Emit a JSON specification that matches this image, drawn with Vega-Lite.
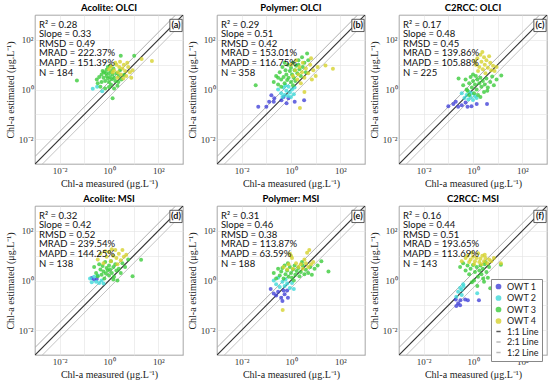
{
  "$schema": "https://vega.github.io/schema/vega-lite/v6.json",
  "padding": {"top": 2, "left": 4, "right": 5, "bottom": 2},
  "datasets": {
    "panels": [
      {"p": "a", "title": "Acolite: OLCI", "lbl": "(a)", "stats": ["R² = 0.28", "Slope = 0.33", "RMSD = 0.49", "MRAD = 222.37%", "MAPD = 151.39%", "N = 184"]},
      {"p": "b", "title": "Polymer: OLCI", "lbl": "(b)", "stats": ["R² = 0.29", "Slope = 0.51", "RMSD = 0.42", "MRAD = 153.01%", "MAPD = 116.75%", "N = 358"]},
      {"p": "c", "title": "C2RCC: OLCI", "lbl": "(c)", "stats": ["R² = 0.17", "Slope = 0.48", "RMSD = 0.45", "MRAD = 139.86%", "MAPD = 105.88%", "N = 225"]},
      {"p": "d", "title": "Acolite: MSI", "lbl": "(d)", "stats": ["R² = 0.32", "Slope = 0.42", "RMSD = 0.52", "MRAD = 239.54%", "MAPD = 144.25%", "N = 138"]},
      {"p": "e", "title": "Polymer: MSI", "lbl": "(e)", "stats": ["R² = 0.31", "Slope = 0.46", "RMSD = 0.38", "MRAD = 113.87%", "MAPD = 63.59%", "N = 188"]},
      {"p": "f", "title": "C2RCC: MSI", "lbl": "(f)", "stats": ["R² = 0.16", "Slope = 0.44", "RMSD = 0.51", "MRAD = 193.65%", "MAPD = 113.69%", "N = 143"]}
    ]
  },
  "data": {"values": [
    {"p":"a","k":"s"},{"p":"b","k":"s"},{"p":"c","k":"s"},{"p":"d","k":"s"},{"p":"e","k":"s"},{"p":"f","k":"s"},
    {"p":"a","k":"line","c":"1:1 Line","x":0.001,"y":0.001},{"p":"a","k":"line","c":"1:1 Line","x":1000,"y":1000},
    {"p":"a","k":"line","c":"2:1 Line","x":0.001,"y":0.002},{"p":"a","k":"line","c":"2:1 Line","x":500,"y":1000},
    {"p":"a","k":"line","c":"1:2 Line","x":0.002,"y":0.001},{"p":"a","k":"line","c":"1:2 Line","x":1000,"y":500},
    {"p":"b","k":"line","c":"1:1 Line","x":0.001,"y":0.001},{"p":"b","k":"line","c":"1:1 Line","x":1000,"y":1000},
    {"p":"b","k":"line","c":"2:1 Line","x":0.001,"y":0.002},{"p":"b","k":"line","c":"2:1 Line","x":500,"y":1000},
    {"p":"b","k":"line","c":"1:2 Line","x":0.002,"y":0.001},{"p":"b","k":"line","c":"1:2 Line","x":1000,"y":500},
    {"p":"c","k":"line","c":"1:1 Line","x":0.001,"y":0.001},{"p":"c","k":"line","c":"1:1 Line","x":1000,"y":1000},
    {"p":"c","k":"line","c":"2:1 Line","x":0.001,"y":0.002},{"p":"c","k":"line","c":"2:1 Line","x":500,"y":1000},
    {"p":"c","k":"line","c":"1:2 Line","x":0.002,"y":0.001},{"p":"c","k":"line","c":"1:2 Line","x":1000,"y":500},
    {"p":"d","k":"line","c":"1:1 Line","x":0.001,"y":0.001},{"p":"d","k":"line","c":"1:1 Line","x":1000,"y":1000},
    {"p":"d","k":"line","c":"2:1 Line","x":0.001,"y":0.002},{"p":"d","k":"line","c":"2:1 Line","x":500,"y":1000},
    {"p":"d","k":"line","c":"1:2 Line","x":0.002,"y":0.001},{"p":"d","k":"line","c":"1:2 Line","x":1000,"y":500},
    {"p":"e","k":"line","c":"1:1 Line","x":0.001,"y":0.001},{"p":"e","k":"line","c":"1:1 Line","x":1000,"y":1000},
    {"p":"e","k":"line","c":"2:1 Line","x":0.001,"y":0.002},{"p":"e","k":"line","c":"2:1 Line","x":500,"y":1000},
    {"p":"e","k":"line","c":"1:2 Line","x":0.002,"y":0.001},{"p":"e","k":"line","c":"1:2 Line","x":1000,"y":500},
    {"p":"f","k":"line","c":"1:1 Line","x":0.001,"y":0.001},{"p":"f","k":"line","c":"1:1 Line","x":1000,"y":1000},
    {"p":"f","k":"line","c":"2:1 Line","x":0.001,"y":0.002},{"p":"f","k":"line","c":"2:1 Line","x":500,"y":1000},
    {"p":"f","k":"line","c":"1:2 Line","x":0.002,"y":0.001},{"p":"f","k":"line","c":"1:2 Line","x":1000,"y":500},

    {"p":"a","c":"OWT 2","x":0.22,"y":1.07},{"p":"a","c":"OWT 2","x":0.53,"y":0.85},{"p":"a","c":"OWT 2","x":0.33,"y":1.3},
    {"p":"a","c":"OWT 3","x":0.32,"y":2.5},{"p":"a","c":"OWT 3","x":0.4,"y":3.2},{"p":"a","c":"OWT 3","x":0.5,"y":2.0},{"p":"a","c":"OWT 3","x":0.5,"y":4.0},
    {"p":"a","c":"OWT 3","x":0.6,"y":3.0},{"p":"a","c":"OWT 3","x":0.63,"y":5.0},{"p":"a","c":"OWT 3","x":0.7,"y":2.2},{"p":"a","c":"OWT 3","x":0.8,"y":3.5},
    {"p":"a","c":"OWT 3","x":0.8,"y":6.3},{"p":"a","c":"OWT 3","x":0.9,"y":2.8},{"p":"a","c":"OWT 3","x":1.0,"y":4.5},{"p":"a","c":"OWT 3","x":1.0,"y":2.0},
    {"p":"a","c":"OWT 3","x":1.1,"y":3.2},{"p":"a","c":"OWT 3","x":1.2,"y":5.5},{"p":"a","c":"OWT 3","x":1.2,"y":1.6},{"p":"a","c":"OWT 3","x":1.3,"y":2.6},
    {"p":"a","c":"OWT 3","x":1.4,"y":4.0},{"p":"a","c":"OWT 3","x":1.5,"y":7.0},{"p":"a","c":"OWT 3","x":1.6,"y":3.0},{"p":"a","c":"OWT 3","x":1.8,"y":2.2},
    {"p":"a","c":"OWT 3","x":2.0,"y":4.5},{"p":"a","c":"OWT 3","x":2.2,"y":1.4},{"p":"a","c":"OWT 3","x":2.5,"y":3.5},{"p":"a","c":"OWT 3","x":2.8,"y":6.0},
    {"p":"a","c":"OWT 3","x":3.2,"y":2.5},{"p":"a","c":"OWT 3","x":0.45,"y":1.3},{"p":"a","c":"OWT 3","x":0.7,"y":1.1},{"p":"a","c":"OWT 3","x":1.0,"y":1.25},
    {"p":"a","c":"OWT 3","x":1.6,"y":1.1},{"p":"a","c":"OWT 3","x":0.55,"y":5.5},{"p":"a","c":"OWT 3","x":0.9,"y":8.0},{"p":"a","c":"OWT 3","x":3.0,"y":23},
    {"p":"a","c":"OWT 3","x":0.05,"y":2.3},{"p":"a","c":"OWT 3","x":1.4,"y":0.44},{"p":"a","c":"OWT 3","x":10.5,"y":23},{"p":"a","c":"OWT 3","x":4.0,"y":3.8},
    {"p":"a","c":"OWT 3","x":0.35,"y":1.8},{"p":"a","c":"OWT 3","x":0.75,"y":4.5},{"p":"a","c":"OWT 3","x":1.1,"y":9.0},{"p":"a","c":"OWT 3","x":2.4,"y":2.0},
    {"p":"a","c":"OWT 4","x":1.2,"y":8.5},{"p":"a","c":"OWT 4","x":1.6,"y":6.0},{"p":"a","c":"OWT 4","x":2.0,"y":10},{"p":"a","c":"OWT 4","x":2.3,"y":5.0},
    {"p":"a","c":"OWT 4","x":2.6,"y":8.0},{"p":"a","c":"OWT 4","x":3.0,"y":4.0},{"p":"a","c":"OWT 4","x":3.5,"y":7.0},{"p":"a","c":"OWT 4","x":4.0,"y":10},
    {"p":"a","c":"OWT 4","x":4.5,"y":5.5},{"p":"a","c":"OWT 4","x":5.0,"y":3.5},{"p":"a","c":"OWT 4","x":6.0,"y":8.0},{"p":"a","c":"OWT 4","x":7.0,"y":5.0},
    {"p":"a","c":"OWT 4","x":8.0,"y":3.0},{"p":"a","c":"OWT 4","x":1.8,"y":12},{"p":"a","c":"OWT 4","x":2.8,"y":13},{"p":"a","c":"OWT 4","x":21,"y":17},
    {"p":"a","c":"OWT 4","x":55,"y":14},{"p":"a","c":"OWT 4","x":1.0,"y":6.5},{"p":"a","c":"OWT 4","x":3.8,"y":2.8},{"p":"a","c":"OWT 4","x":9.0,"y":6.0},
    {"p":"a","c":"OWT 4","x":1.4,"y":5.0},{"p":"a","c":"OWT 4","x":2.2,"y":3.0},{"p":"a","c":"OWT 4","x":5.5,"y":12},

    {"p":"b","c":"OWT 1","x":0.16,"y":0.59},{"p":"b","c":"OWT 1","x":0.21,"y":0.44},{"p":"b","c":"OWT 1","x":0.13,"y":0.32},{"p":"b","c":"OWT 1","x":0.1,"y":0.2},
    {"p":"b","c":"OWT 1","x":0.41,"y":0.37},{"p":"b","c":"OWT 1","x":0.66,"y":0.28},{"p":"b","c":"OWT 1","x":0.79,"y":0.44},{"p":"b","c":"OWT 1","x":1.41,"y":0.32},
    {"p":"b","c":"OWT 1","x":3.4,"y":0.37},{"p":"b","c":"OWT 1","x":0.5,"y":0.5},{"p":"b","c":"OWT 1","x":0.047,"y":0.2},{"p":"b","c":"OWT 1","x":0.2,"y":0.32},
    {"p":"b","c":"OWT 2","x":0.3,"y":1.0},{"p":"b","c":"OWT 2","x":0.4,"y":0.7},{"p":"b","c":"OWT 2","x":0.5,"y":1.2},{"p":"b","c":"OWT 2","x":0.55,"y":0.6},
    {"p":"b","c":"OWT 2","x":0.65,"y":0.9},{"p":"b","c":"OWT 2","x":0.75,"y":0.55},{"p":"b","c":"OWT 2","x":0.8,"y":1.3},{"p":"b","c":"OWT 2","x":0.9,"y":0.75},
    {"p":"b","c":"OWT 2","x":1.0,"y":0.5},{"p":"b","c":"OWT 2","x":1.1,"y":1.0},{"p":"b","c":"OWT 2","x":1.3,"y":0.65},{"p":"b","c":"OWT 2","x":1.4,"y":1.2},
    {"p":"b","c":"OWT 2","x":0.6,"y":1.5},{"p":"b","c":"OWT 2","x":0.45,"y":0.5},
    {"p":"b","c":"OWT 3","x":0.2,"y":2.0},{"p":"b","c":"OWT 3","x":0.25,"y":3.5},{"p":"b","c":"OWT 3","x":0.3,"y":1.6},{"p":"b","c":"OWT 3","x":0.35,"y":5.0},
    {"p":"b","c":"OWT 3","x":0.4,"y":2.5},{"p":"b","c":"OWT 3","x":0.45,"y":8.0},{"p":"b","c":"OWT 3","x":0.5,"y":3.2},{"p":"b","c":"OWT 3","x":0.55,"y":1.8},
    {"p":"b","c":"OWT 3","x":0.6,"y":6.0},{"p":"b","c":"OWT 3","x":0.65,"y":4.0},{"p":"b","c":"OWT 3","x":0.7,"y":2.4},{"p":"b","c":"OWT 3","x":0.75,"y":10},
    {"p":"b","c":"OWT 3","x":0.8,"y":3.0},{"p":"b","c":"OWT 3","x":0.9,"y":5.5},{"p":"b","c":"OWT 3","x":1.0,"y":2.0},{"p":"b","c":"OWT 3","x":1.0,"y":7.5},
    {"p":"b","c":"OWT 3","x":1.1,"y":4.0},{"p":"b","c":"OWT 3","x":1.2,"y":12},{"p":"b","c":"OWT 3","x":1.3,"y":3.0},{"p":"b","c":"OWT 3","x":1.4,"y":6.0},
    {"p":"b","c":"OWT 3","x":1.5,"y":2.2},{"p":"b","c":"OWT 3","x":1.6,"y":9.0},{"p":"b","c":"OWT 3","x":1.8,"y":4.5},{"p":"b","c":"OWT 3","x":2.0,"y":15},
    {"p":"b","c":"OWT 3","x":2.2,"y":6.5},{"p":"b","c":"OWT 3","x":2.5,"y":3.5},{"p":"b","c":"OWT 3","x":2.8,"y":20},{"p":"b","c":"OWT 3","x":3.0,"y":8.0},
    {"p":"b","c":"OWT 3","x":3.5,"y":12},{"p":"b","c":"OWT 3","x":4.0,"y":5.0},{"p":"b","c":"OWT 3","x":4.5,"y":28},{"p":"b","c":"OWT 3","x":5.0,"y":15},
    {"p":"b","c":"OWT 3","x":0.037,"y":1.5},{"p":"b","c":"OWT 3","x":0.4,"y":1.3},{"p":"b","c":"OWT 3","x":1.2,"y":1.5},{"p":"b","c":"OWT 3","x":2.0,"y":10},
    {"p":"b","c":"OWT 3","x":0.3,"y":3.0},{"p":"b","c":"OWT 3","x":0.55,"y":12},
    {"p":"b","c":"OWT 4","x":1.0,"y":10},{"p":"b","c":"OWT 4","x":1.2,"y":3.5},{"p":"b","c":"OWT 4","x":1.5,"y":6.0},{"p":"b","c":"OWT 4","x":1.8,"y":2.5},
    {"p":"b","c":"OWT 4","x":2.0,"y":4.0},{"p":"b","c":"OWT 4","x":2.2,"y":8.0},{"p":"b","c":"OWT 4","x":2.5,"y":1.8},{"p":"b","c":"OWT 4","x":2.8,"y":5.0},
    {"p":"b","c":"OWT 4","x":3.0,"y":12},{"p":"b","c":"OWT 4","x":3.5,"y":3.0},{"p":"b","c":"OWT 4","x":4.0,"y":7.0},{"p":"b","c":"OWT 4","x":5.0,"y":4.5},
    {"p":"b","c":"OWT 4","x":6.0,"y":10},{"p":"b","c":"OWT 4","x":7.0,"y":2.5},{"p":"b","c":"OWT 4","x":8.0,"y":6.0},{"p":"b","c":"OWT 4","x":10,"y":3.5},
    {"p":"b","c":"OWT 4","x":12,"y":8.0},{"p":"b","c":"OWT 4","x":25,"y":9.3},{"p":"b","c":"OWT 4","x":50,"y":6.9},{"p":"b","c":"OWT 4","x":2.3,"y":0.18},
    {"p":"b","c":"OWT 4","x":3.5,"y":0.8},{"p":"b","c":"OWT 4","x":1.6,"y":15},{"p":"b","c":"OWT 4","x":6.5,"y":18},

    {"p":"c","c":"OWT 1","x":0.1,"y":0.21},{"p":"c","c":"OWT 1","x":0.2,"y":0.32},{"p":"c","c":"OWT 1","x":0.16,"y":0.26},{"p":"c","c":"OWT 1","x":0.35,"y":0.23},
    {"p":"c","c":"OWT 1","x":0.87,"y":0.21},{"p":"c","c":"OWT 1","x":1.41,"y":0.26},{"p":"c","c":"OWT 1","x":3.7,"y":0.26},{"p":"c","c":"OWT 1","x":0.25,"y":0.2},
    {"p":"c","c":"OWT 1","x":0.5,"y":0.3},{"p":"c","c":"OWT 1","x":0.6,"y":0.2},
    {"p":"c","c":"OWT 2","x":0.35,"y":0.7},{"p":"c","c":"OWT 2","x":0.45,"y":0.45},{"p":"c","c":"OWT 2","x":0.55,"y":0.6},{"p":"c","c":"OWT 2","x":0.65,"y":0.4},
    {"p":"c","c":"OWT 2","x":0.8,"y":0.5},{"p":"c","c":"OWT 2","x":0.9,"y":0.7},{"p":"c","c":"OWT 2","x":1.0,"y":0.38},{"p":"c","c":"OWT 2","x":1.2,"y":0.55},
    {"p":"c","c":"OWT 2","x":1.4,"y":0.45},{"p":"c","c":"OWT 2","x":0.7,"y":0.8},
    {"p":"c","c":"OWT 3","x":0.26,"y":2.75},{"p":"c","c":"OWT 3","x":0.4,"y":1.5},{"p":"c","c":"OWT 3","x":0.5,"y":2.5},{"p":"c","c":"OWT 3","x":0.6,"y":0.9},
    {"p":"c","c":"OWT 3","x":0.7,"y":1.8},{"p":"c","c":"OWT 3","x":0.8,"y":3.2},{"p":"c","c":"OWT 3","x":0.9,"y":1.2},{"p":"c","c":"OWT 3","x":1.0,"y":2.2},
    {"p":"c","c":"OWT 3","x":1.1,"y":0.7},{"p":"c","c":"OWT 3","x":1.2,"y":1.6},{"p":"c","c":"OWT 3","x":1.3,"y":3.5},{"p":"c","c":"OWT 3","x":1.4,"y":1.0},
    {"p":"c","c":"OWT 3","x":1.5,"y":2.5},{"p":"c","c":"OWT 3","x":1.6,"y":0.6},{"p":"c","c":"OWT 3","x":1.8,"y":1.8},{"p":"c","c":"OWT 3","x":2.0,"y":3.0},
    {"p":"c","c":"OWT 3","x":2.2,"y":1.3},{"p":"c","c":"OWT 3","x":2.5,"y":2.2},{"p":"c","c":"OWT 3","x":2.8,"y":0.8},{"p":"c","c":"OWT 3","x":3.0,"y":1.6},
    {"p":"c","c":"OWT 3","x":3.5,"y":2.8},{"p":"c","c":"OWT 3","x":4.0,"y":1.2},{"p":"c","c":"OWT 3","x":5.0,"y":2.0},{"p":"c","c":"OWT 3","x":6.0,"y":3.3},
    {"p":"c","c":"OWT 3","x":7.0,"y":1.5},{"p":"c","c":"OWT 3","x":9.0,"y":2.5},{"p":"c","c":"OWT 3","x":14,"y":3.7},{"p":"c","c":"OWT 3","x":1.0,"y":4.0},
    {"p":"c","c":"OWT 3","x":0.7,"y":0.6},{"p":"c","c":"OWT 3","x":2.0,"y":0.5},{"p":"c","c":"OWT 3","x":0.55,"y":1.0},{"p":"c","c":"OWT 3","x":3.8,"y":0.9},
    {"p":"c","c":"OWT 4","x":1.3,"y":10},{"p":"c","c":"OWT 4","x":1.5,"y":18},{"p":"c","c":"OWT 4","x":1.8,"y":8},{"p":"c","c":"OWT 4","x":2.0,"y":25},
    {"p":"c","c":"OWT 4","x":2.2,"y":13},{"p":"c","c":"OWT 4","x":2.5,"y":6.5},{"p":"c","c":"OWT 4","x":2.8,"y":20},{"p":"c","c":"OWT 4","x":3.0,"y":10},
    {"p":"c","c":"OWT 4","x":3.5,"y":15},{"p":"c","c":"OWT 4","x":4.0,"y":7.5},{"p":"c","c":"OWT 4","x":4.5,"y":22},{"p":"c","c":"OWT 4","x":5.0,"y":12},
    {"p":"c","c":"OWT 4","x":5.5,"y":6},{"p":"c","c":"OWT 4","x":6.5,"y":9},{"p":"c","c":"OWT 4","x":7.5,"y":5.5},{"p":"c","c":"OWT 4","x":2.4,"y":32},
    {"p":"c","c":"OWT 4","x":1.6,"y":5.5},{"p":"c","c":"OWT 4","x":3.2,"y":4.5},{"p":"c","c":"OWT 4","x":9,"y":8},{"p":"c","c":"OWT 4","x":1.2,"y":14},

    {"p":"d","c":"OWT 1","x":0.2,"y":1.25},{"p":"d","c":"OWT 1","x":0.25,"y":1.1},{"p":"d","c":"OWT 1","x":0.32,"y":1.15},
    {"p":"d","c":"OWT 2","x":0.17,"y":1.2},{"p":"d","c":"OWT 2","x":0.2,"y":0.85},{"p":"d","c":"OWT 2","x":0.25,"y":1.4},{"p":"d","c":"OWT 2","x":0.3,"y":0.9},
    {"p":"d","c":"OWT 2","x":0.4,"y":0.8},{"p":"d","c":"OWT 2","x":0.5,"y":1.0},{"p":"d","c":"OWT 2","x":0.6,"y":0.75},{"p":"d","c":"OWT 2","x":0.35,"y":1.6},
    {"p":"d","c":"OWT 3","x":0.25,"y":3.5},{"p":"d","c":"OWT 3","x":0.3,"y":2.0},{"p":"d","c":"OWT 3","x":0.35,"y":1.5},{"p":"d","c":"OWT 3","x":0.4,"y":4.5},
    {"p":"d","c":"OWT 3","x":0.45,"y":2.8},{"p":"d","c":"OWT 3","x":0.5,"y":1.7},{"p":"d","c":"OWT 3","x":0.55,"y":3.8},{"p":"d","c":"OWT 3","x":0.6,"y":2.3},
    {"p":"d","c":"OWT 3","x":0.7,"y":5.5},{"p":"d","c":"OWT 3","x":0.75,"y":1.9},{"p":"d","c":"OWT 3","x":0.8,"y":3.2},{"p":"d","c":"OWT 3","x":0.9,"y":2.5},
    {"p":"d","c":"OWT 3","x":1.0,"y":4.0},{"p":"d","c":"OWT 3","x":1.0,"y":1.6},{"p":"d","c":"OWT 3","x":1.1,"y":2.8},{"p":"d","c":"OWT 3","x":1.2,"y":6.0},
    {"p":"d","c":"OWT 3","x":1.3,"y":2.0},{"p":"d","c":"OWT 3","x":1.5,"y":3.5},{"p":"d","c":"OWT 3","x":1.6,"y":1.4},{"p":"d","c":"OWT 3","x":1.8,"y":4.5},
    {"p":"d","c":"OWT 3","x":2.0,"y":2.5},{"p":"d","c":"OWT 3","x":2.5,"y":3.0},{"p":"d","c":"OWT 3","x":3.0,"y":2.0},{"p":"d","c":"OWT 3","x":3.5,"y":5.0},
    {"p":"d","c":"OWT 3","x":4.5,"y":3.5},{"p":"d","c":"OWT 3","x":6.0,"y":7.0},{"p":"d","c":"OWT 3","x":9,"y":1.5},{"p":"d","c":"OWT 3","x":20,"y":6.8},
    {"p":"d","c":"OWT 3","x":1.5,"y":1.1},{"p":"d","c":"OWT 3","x":2.2,"y":1.0},{"p":"d","c":"OWT 3","x":0.65,"y":1.2},
    {"p":"d","c":"OWT 4","x":0.35,"y":7},{"p":"d","c":"OWT 4","x":0.45,"y":12},{"p":"d","c":"OWT 4","x":0.6,"y":5},{"p":"d","c":"OWT 4","x":0.8,"y":9},
    {"p":"d","c":"OWT 4","x":1.0,"y":14},{"p":"d","c":"OWT 4","x":1.2,"y":6},{"p":"d","c":"OWT 4","x":1.5,"y":10},{"p":"d","c":"OWT 4","x":1.8,"y":17},
    {"p":"d","c":"OWT 4","x":2.0,"y":8},{"p":"d","c":"OWT 4","x":2.5,"y":12},{"p":"d","c":"OWT 4","x":3.0,"y":6.5},{"p":"d","c":"OWT 4","x":3.5,"y":17},
    {"p":"d","c":"OWT 4","x":4.0,"y":9},{"p":"d","c":"OWT 4","x":5.0,"y":11},{"p":"d","c":"OWT 4","x":0.7,"y":15},{"p":"d","c":"OWT 4","x":2.2,"y":4.5},
    {"p":"d","c":"OWT 4","x":1.3,"y":18},

    {"p":"e","c":"OWT 1","x":0.15,"y":0.45},{"p":"e","c":"OWT 1","x":0.2,"y":0.3},{"p":"e","c":"OWT 1","x":0.25,"y":0.25},{"p":"e","c":"OWT 1","x":0.3,"y":0.35},
    {"p":"e","c":"OWT 1","x":0.4,"y":0.2},{"p":"e","c":"OWT 1","x":0.45,"y":0.15},{"p":"e","c":"OWT 1","x":0.55,"y":0.28},{"p":"e","c":"OWT 1","x":0.7,"y":0.4},
    {"p":"e","c":"OWT 1","x":0.75,"y":0.2},{"p":"e","c":"OWT 1","x":0.5,"y":0.4},
    {"p":"e","c":"OWT 2","x":0.2,"y":1.0},{"p":"e","c":"OWT 2","x":0.25,"y":0.7},{"p":"e","c":"OWT 2","x":0.3,"y":1.3},{"p":"e","c":"OWT 2","x":0.35,"y":0.55},
    {"p":"e","c":"OWT 2","x":0.45,"y":0.9},{"p":"e","c":"OWT 2","x":0.55,"y":0.6},{"p":"e","c":"OWT 2","x":0.7,"y":0.75},{"p":"e","c":"OWT 2","x":0.9,"y":0.5},
    {"p":"e","c":"OWT 2","x":1.1,"y":0.8},{"p":"e","c":"OWT 2","x":1.3,"y":0.45},{"p":"e","c":"OWT 2","x":0.6,"y":1.1},
    {"p":"e","c":"OWT 3","x":0.2,"y":2.0},{"p":"e","c":"OWT 3","x":0.25,"y":1.2},{"p":"e","c":"OWT 3","x":0.3,"y":3.0},{"p":"e","c":"OWT 3","x":0.35,"y":1.6},
    {"p":"e","c":"OWT 3","x":0.4,"y":2.3},{"p":"e","c":"OWT 3","x":0.5,"y":1.2},{"p":"e","c":"OWT 3","x":0.55,"y":4},{"p":"e","c":"OWT 3","x":0.6,"y":1.8},
    {"p":"e","c":"OWT 3","x":0.7,"y":2.5},{"p":"e","c":"OWT 3","x":0.8,"y":1.4},{"p":"e","c":"OWT 3","x":0.9,"y":3.5},{"p":"e","c":"OWT 3","x":1.0,"y":2.0},
    {"p":"e","c":"OWT 3","x":1.1,"y":1.3},{"p":"e","c":"OWT 3","x":1.2,"y":2.8},{"p":"e","c":"OWT 3","x":1.4,"y":4.0},{"p":"e","c":"OWT 3","x":1.5,"y":1.7},
    {"p":"e","c":"OWT 3","x":1.7,"y":2.4},{"p":"e","c":"OWT 3","x":2.0,"y":3.2},{"p":"e","c":"OWT 3","x":2.2,"y":1.5},{"p":"e","c":"OWT 3","x":2.5,"y":2.2},
    {"p":"e","c":"OWT 3","x":3.0,"y":4.0},{"p":"e","c":"OWT 3","x":3.5,"y":1.8},{"p":"e","c":"OWT 3","x":4.0,"y":2.7},{"p":"e","c":"OWT 3","x":5.0,"y":2.0},
    {"p":"e","c":"OWT 3","x":6.0,"y":3.5},{"p":"e","c":"OWT 3","x":7.0,"y":1.7},{"p":"e","c":"OWT 3","x":9,"y":3},{"p":"e","c":"OWT 3","x":12,"y":4},
    {"p":"e","c":"OWT 3","x":17,"y":5.9},{"p":"e","c":"OWT 3","x":33,"y":2.3},{"p":"e","c":"OWT 3","x":1.3,"y":1.0},{"p":"e","c":"OWT 3","x":2.8,"y":5.5},
    {"p":"e","c":"OWT 3","x":0.45,"y":3.2},{"p":"e","c":"OWT 3","x":0.75,"y":5},
    {"p":"e","c":"OWT 4","x":1.0,"y":10},{"p":"e","c":"OWT 4","x":1.1,"y":8},{"p":"e","c":"OWT 4","x":0.9,"y":12},{"p":"e","c":"OWT 4","x":5.5,"y":17},
    {"p":"e","c":"OWT 4","x":4.5,"y":13},{"p":"e","c":"OWT 4","x":0.5,"y":3.5},{"p":"e","c":"OWT 4","x":0.8,"y":4.5},{"p":"e","c":"OWT 4","x":1.2,"y":3.0},
    {"p":"e","c":"OWT 4","x":1.6,"y":5},{"p":"e","c":"OWT 4","x":2.0,"y":3.5},{"p":"e","c":"OWT 4","x":2.5,"y":4.5},{"p":"e","c":"OWT 4","x":3.0,"y":3},
    {"p":"e","c":"OWT 4","x":4.0,"y":5},{"p":"e","c":"OWT 4","x":5.0,"y":3.5},{"p":"e","c":"OWT 4","x":6.5,"y":4.5},{"p":"e","c":"OWT 4","x":8,"y":5.5},
    {"p":"e","c":"OWT 4","x":0.7,"y":2.8},{"p":"e","c":"OWT 4","x":0.46,"y":0.065},{"p":"e","c":"OWT 4","x":3.5,"y":7},

    {"p":"f","c":"OWT 1","x":0.2,"y":0.17},{"p":"f","c":"OWT 1","x":0.25,"y":0.12},{"p":"f","c":"OWT 1","x":0.31,"y":0.16},{"p":"f","c":"OWT 1","x":0.48,"y":0.17},
    {"p":"f","c":"OWT 1","x":0.62,"y":0.16},{"p":"f","c":"OWT 1","x":0.3,"y":0.1},{"p":"f","c":"OWT 1","x":0.21,"y":0.093},{"p":"f","c":"OWT 1","x":1.74,"y":0.16},
    {"p":"f","c":"OWT 2","x":0.35,"y":0.42},{"p":"f","c":"OWT 2","x":0.25,"y":0.35},{"p":"f","c":"OWT 2","x":0.35,"y":0.26},{"p":"f","c":"OWT 2","x":0.21,"y":0.22},
    {"p":"f","c":"OWT 2","x":1.48,"y":0.31},{"p":"f","c":"OWT 2","x":0.41,"y":0.58},{"p":"f","c":"OWT 2","x":0.3,"y":0.5},{"p":"f","c":"OWT 2","x":0.4,"y":0.7},
    {"p":"f","c":"OWT 3","x":0.3,"y":3.5},{"p":"f","c":"OWT 3","x":0.4,"y":5},{"p":"f","c":"OWT 3","x":0.5,"y":2.5},{"p":"f","c":"OWT 3","x":0.6,"y":4},
    {"p":"f","c":"OWT 3","x":0.7,"y":1.8},{"p":"f","c":"OWT 3","x":0.8,"y":3},{"p":"f","c":"OWT 3","x":1.0,"y":4.2},{"p":"f","c":"OWT 3","x":1.1,"y":1.0},
    {"p":"f","c":"OWT 3","x":1.2,"y":2.2},{"p":"f","c":"OWT 3","x":1.4,"y":3.5},{"p":"f","c":"OWT 3","x":1.6,"y":1.4},{"p":"f","c":"OWT 3","x":1.8,"y":2.5},
    {"p":"f","c":"OWT 3","x":2.0,"y":4},{"p":"f","c":"OWT 3","x":2.2,"y":1.8},{"p":"f","c":"OWT 3","x":2.5,"y":3},{"p":"f","c":"OWT 3","x":2.8,"y":0.9},
    {"p":"f","c":"OWT 3","x":3.0,"y":4.5},{"p":"f","c":"OWT 3","x":3.5,"y":2.2},{"p":"f","c":"OWT 3","x":4.0,"y":1.3},{"p":"f","c":"OWT 3","x":4.5,"y":3.5},
    {"p":"f","c":"OWT 3","x":5,"y":0.49},{"p":"f","c":"OWT 3","x":13.5,"y":4.3},{"p":"f","c":"OWT 3","x":0.9,"y":0.85},{"p":"f","c":"OWT 3","x":1.5,"y":0.6},
    {"p":"f","c":"OWT 3","x":2.6,"y":1.2},{"p":"f","c":"OWT 3","x":3.2,"y":5.5},
    {"p":"f","c":"OWT 4","x":0.35,"y":6},{"p":"f","c":"OWT 4","x":0.5,"y":8},{"p":"f","c":"OWT 4","x":0.6,"y":10},{"p":"f","c":"OWT 4","x":0.7,"y":5.5},
    {"p":"f","c":"OWT 4","x":0.8,"y":7},{"p":"f","c":"OWT 4","x":1.0,"y":9},{"p":"f","c":"OWT 4","x":1.2,"y":6},{"p":"f","c":"OWT 4","x":1.4,"y":8},
    {"p":"f","c":"OWT 4","x":1.6,"y":12.6},{"p":"f","c":"OWT 4","x":1.8,"y":5.5},{"p":"f","c":"OWT 4","x":2.0,"y":7.5},{"p":"f","c":"OWT 4","x":2.4,"y":10},
    {"p":"f","c":"OWT 4","x":2.8,"y":6},{"p":"f","c":"OWT 4","x":3.2,"y":8},{"p":"f","c":"OWT 4","x":3.8,"y":5},{"p":"f","c":"OWT 4","x":4.5,"y":7},
    {"p":"f","c":"OWT 4","x":5.5,"y":6},{"p":"f","c":"OWT 4","x":7,"y":8},{"p":"f","c":"OWT 4","x":13.5,"y":5},{"p":"f","c":"OWT 4","x":1.1,"y":4.5},
    {"p":"f","c":"OWT 4","x":2.2,"y":4.5},{"p":"f","c":"OWT 4","x":0.9,"y":13},{"p":"f","c":"OWT 4","x":3,"y":11}
  ]},
  "transform": [
    {"lookup": "p", "from": {"data": {"name": "panels"}, "key": "p", "fields": ["title", "lbl", "stats"]}}
  ],
  "facet": {
    "field": "title",
    "type": "nominal",
    "title": null,
    "sort": ["Acolite: OLCI", "Polymer: OLCI", "C2RCC: OLCI", "Acolite: MSI", "Polymer: MSI", "C2RCC: MSI"],
    "header": {"labelFont": "Lato", "labelFontWeight": "bold", "labelFontSize": 9.5, "labelPadding": 3, "labelColor": "#000"}
  },
  "columns": 3,
  "spacing": {"row": 4, "column": 1},
  "resolve": {"axis": {"x": "independent", "y": "independent"}},
  "spec": {
    "width": 148,
    "height": 149,
    "layer": [
      {
        "transform": [{"filter": "datum.k == 'line'"}],
        "mark": {"type": "line", "clip": true},
        "encoding": {
          "x": {"field": "x", "type": "quantitative",
                "scale": {"type": "log", "domain": [0.001, 1000], "nice": false},
                "axis": {"title": "Chl-a measured (μg.L⁻¹)", "values": [0.001, 0.01, 0.1, 1, 10, 100, 1000],
                         "labelExpr": "datum.value == 0.01 ? '10⁻²' : datum.value == 1 ? '10⁰' : datum.value == 100 ? '10²' : ''"}},
          "y": {"field": "y", "type": "quantitative",
                "scale": {"type": "log", "domain": [0.001, 1000], "nice": false},
                "axis": {"title": "Chl-a estimated (μg.L⁻¹)", "values": [0.001, 0.01, 0.1, 1, 10, 100, 1000],
                         "labelExpr": "datum.value == 0.01 ? '10⁻²' : datum.value == 1 ? '10⁰' : datum.value == 100 ? '10²' : ''"}},
          "color": {"field": "c", "type": "nominal"},
          "strokeWidth": {"field": "c", "type": "nominal", "scale": {"domain": ["1:1 Line", "2:1 Line", "1:2 Line"], "range": [1.2, 0.7, 0.7]}, "legend": null},
          "detail": {"field": "c"}
        }
      },
      {
        "transform": [{"filter": "!datum.k"}],
        "mark": {"type": "point", "filled": true, "size": 16, "opacity": 0.8},
        "encoding": {
          "x": {"field": "x", "type": "quantitative"},
          "y": {"field": "y", "type": "quantitative"},
          "color": {"field": "c", "type": "nominal",
                    "scale": {"domain": ["OWT 1", "OWT 2", "OWT 3", "OWT 4", "1:1 Line", "2:1 Line", "1:2 Line"],
                              "range": ["#4343d8", "#3fd9d9", "#3ccc3c", "#d6d22e", "#333333", "#aaaaaa", "#aaaaaa"]},
                    "legend": {"title": null, "orient": "none", "legendX": 456, "legendY": 264,
                               "encode": {"symbols": {"update": {"stroke": {"scale": "color", "field": "value"}, "strokeWidth": {"value": 1.2}}}}}},
          "shape": {"field": "c", "type": "nominal",
                    "scale": {"domain": ["OWT 1", "OWT 2", "OWT 3", "OWT 4", "1:1 Line", "2:1 Line", "1:2 Line"],
                              "range": ["circle", "circle", "circle", "circle", "stroke", "stroke", "stroke"]},
                    "legend": {"title": null, "orient": "none", "legendX": 456, "legendY": 264,
                               "encode": {"symbols": {"update": {"stroke": {"scale": "color", "field": "value"}, "strokeWidth": {"value": 1.2}}}}}}
        }
      },
      {
        "transform": [{"filter": "datum.k == 's'"}],
        "mark": {"type": "text", "align": "left", "baseline": "top", "font": "Lato", "fontSize": 9.5, "lineHeight": 9.6, "color": "#111"},
        "encoding": {
          "x": {"datum": 0.00145, "type": "quantitative"},
          "y": {"datum": 650, "type": "quantitative"},
          "text": {"field": "stats"}
        }
      },
      {
        "transform": [{"filter": "datum.k == 's'"}],
        "mark": {"type": "point", "shape": "square", "size": 150, "filled": true, "fill": "white", "stroke": "#333", "strokeWidth": 0.8, "opacity": 1},
        "encoding": {
          "x": {"datum": 520, "type": "quantitative"},
          "y": {"datum": 380, "type": "quantitative"}
        }
      },
      {
        "transform": [{"filter": "datum.k == 's'"}],
        "mark": {"type": "text", "align": "center", "baseline": "middle", "font": "Lato", "fontWeight": "bold", "fontSize": 9, "color": "#111"},
        "encoding": {
          "x": {"datum": 520, "type": "quantitative"},
          "y": {"datum": 380, "type": "quantitative"},
          "text": {"field": "lbl"}
        }
      }
    ]
  },
  "config": {
    "view": {"stroke": "#555", "strokeWidth": 0.8},
    "axis": {"gridColor": "#e2e2e2", "gridWidth": 0.6, "domain": false, "ticks": false,
             "labelFont": "Liberation Serif", "labelFontSize": 9, "labelColor": "#333", "labelPadding": 2,
             "titleFont": "Liberation Serif", "titleFontSize": 10, "titleFontWeight": "normal", "titleColor": "#222", "titlePadding": 3},
    "legend": {"labelFont": "Lato", "labelFontSize": 9, "labelColor": "#222", "symbolSize": 18, "rowPadding": 0.5,
               "fillColor": "white", "strokeColor": "#888", "padding": 3, "labelLimit": 60}
  }
}
